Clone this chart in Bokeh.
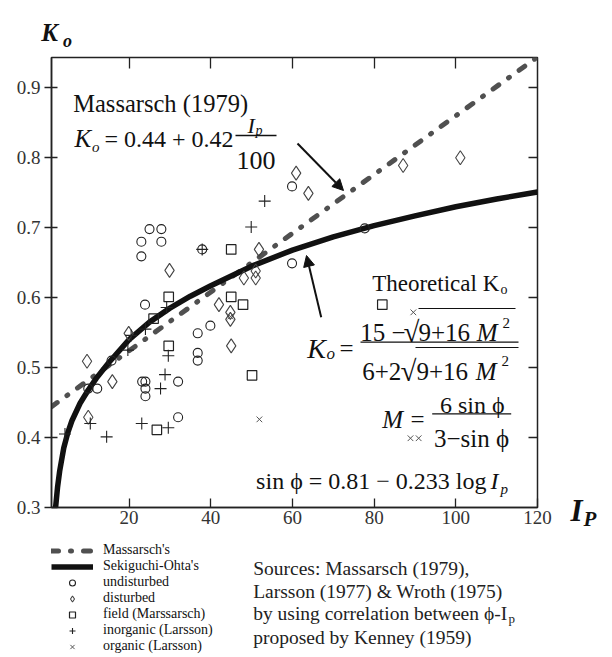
from bokeh.plotting import figure
from bokeh.layouts import row, column
from bokeh.models import (Range1d, LinearAxis, FixedTicker, Label, Arrow,
                          NormalHead, Legend, LegendItem)
from bokeh.embed import file_html
from bokeh.resources import INLINE

# ---------------- data ----------------
mass_ip = [1, 120]
mass_ko = [0.4442, 0.944]

theo_ip = [2.0, 2.5, 3, 4, 5, 6, 8, 10, 12, 15, 20, 25, 30, 35, 40, 50, 60, 70, 80, 90, 100, 110, 120]
theo_ko = [0.300, 0.330, 0.352, 0.385, 0.407, 0.424, 0.449, 0.468, 0.485, 0.507, 0.540, 0.565,
           0.585, 0.602, 0.617, 0.645, 0.668, 0.687, 0.703, 0.717, 0.730, 0.741, 0.751]

und_ip = [25.0, 27.9, 23.0, 27.9, 23.0, 23.9, 36.8, 39.9, 36.8, 36.8, 32.0, 32.0,
          23.2, 24.0, 24.0, 24.0, 10.0, 12.2, 15.7, 59.9, 59.9, 77.7, 37.9]
und_ko = [0.698, 0.698, 0.680, 0.680, 0.659, 0.590, 0.549, 0.560, 0.521, 0.510, 0.480, 0.429,
          0.480, 0.480, 0.470, 0.459, 0.470, 0.470, 0.510, 0.759, 0.649, 0.699, 0.669]

dis_ip = [29.9, 9.7, 15.9, 10.0, 19.9, 42.0, 44.8, 44.8, 45.0, 60.9, 63.9, 51.8, 48.1, 51.0, 51.0, 87.1, 101.1]
dis_ko = [0.639, 0.509, 0.480, 0.429, 0.549, 0.590, 0.579, 0.569, 0.531, 0.778, 0.749, 0.669,
          0.628, 0.628, 0.638, 0.789, 0.800]

fld_ip = [29.7, 26.0, 45.0, 45.0, 47.9, 29.7, 26.8, 50.1, 82.0]
fld_ko = [0.601, 0.570, 0.669, 0.601, 0.590, 0.531, 0.411, 0.489, 0.590]

ino_ip = [4.3, 10.5, 14.5, 23.1, 28.8, 27.7, 29.6, 29.6, 19.7, 20.5, 24.0, 29.2, 37.9, 49.9, 53.2]
ino_ko = [0.405, 0.420, 0.401, 0.420, 0.490, 0.470, 0.517, 0.414, 0.525, 0.546, 0.555, 0.586,
          0.669, 0.701, 0.738]

org_ip = [44.8, 51.9, 88.9, 90.9, 89.6]
org_ko = [0.573, 0.426, 0.399, 0.399, 0.579]

x_ticks = [20, 40, 60, 80, 100, 120]
y_ticks = [0.3, 0.4, 0.5, 0.6, 0.7, 0.8, 0.9]

legend_labels = ["Massarsch's", "Sekiguchi-Ohta's", "undisturbed", "disturbed",
                 "field (Marssarsch)", "inorganic (Larsson)", "organic (Larsson)"]

source_lines = ["Sources: Massarsch (1979),", "Larsson (1977) & Wroth (1975)",
                "by using correlation between \u03d5-I", "proposed by Kenney (1959)"]

# ---------------- geometry (page pixels) ----------------
W, H = 612, 657
LEFT_W = 560            # width of the plot column
TOP_H = 53              # strip above the plot
FL, FR, FT, FB = 51, 537, 57, 507
MAIN_H = 480
BOT_TOP = TOP_H + MAIN_H
BOT_H = H - BOT_TOP
X0, X1, Y0, Y1 = 1, 120, 0.3, 0.9433
SERIF = "Liberation Serif"
INK = "#111111"

STYLE = dict(line_mass=dict(line_color="#505050", line_width=5, line_dash="7 12 1 12", line_cap="round"),
             line_theo=dict(line_color=INK, line_width=5.5, line_join="round"),
             und=dict(marker="circle", size=9, fill_color=None, line_color="#222222", line_width=1.1),
             dis=dict(marker="diamond", size=14, fill_color=None, line_color="#444444", line_width=1.1),
             fld=dict(marker="square", size=9.5, fill_color=None, line_color="#222222", line_width=1.2),
             ino=dict(marker="cross", size=12, line_color="#222222", line_width=1.1),
             org=dict(marker="x", size=8, line_color="#555555", line_width=1.0))


def dx(px):
    return X0 + (px - FL) * (X1 - X0) / (FR - FL)


def dy(py):
    return Y0 + (FB - py) * (Y1 - Y0) / (FB - FT)


def strip(w, h, x_lo, x_hi, y_top, y_bot, **kw):
    return figure(width=w, height=h, x_range=Range1d(x_lo, x_hi), y_range=Range1d(y_bot, y_top),
                  x_axis_type=None, y_axis_type=None, toolbar_location=None,
                  output_backend="svg", outline_line_color=None,
                  background_fill_color="white", border_fill_color="white", **kw)


def txt(fig, x, y, text, size, style="normal", align="left", color=INK):
    fig.add_layout(Label(x=x, y=y, text=text, text_font=SERIF,
                         text_font_size=f"{size}px", text_font_style=style,
                         text_align=align, text_baseline="alphabetic", text_color=color))


# ---------------- main plot ----------------
p = figure(width=LEFT_W, height=MAIN_H, x_range=Range1d(X0, X1), y_range=Range1d(Y0, Y1),
           output_backend="svg", toolbar_location=None,
           min_border_left=FL, min_border_right=LEFT_W - FR, min_border_top=FT - TOP_H,
           min_border_bottom=BOT_TOP - FB, background_fill_color="white",
           border_fill_color="white")
p.xgrid.visible = False
p.ygrid.visible = False
p.outline_line_color = "#222222"
p.outline_line_width = 1.5

for ax, ticks in ((p.xaxis[0], x_ticks), (p.yaxis[0], y_ticks)):
    ax.ticker = FixedTicker(ticks=ticks)
    ax.minor_tick_line_color = None
    ax.axis_line_color = "#222222"
    ax.axis_line_width = 1.5
    ax.major_tick_line_color = "#222222"
    ax.major_tick_line_width = 1.3
    ax.major_label_text_font = SERIF
    ax.major_label_text_font_size = "19px"
    ax.major_label_text_color = "#333333"

p.yaxis[0].major_tick_in = 6
p.yaxis[0].major_tick_out = 7
p.yaxis[0].major_label_standoff = 4
p.xaxis[0].major_tick_in = 9
p.xaxis[0].major_tick_out = 0
p.xaxis[0].major_label_standoff = 3

for place, ticks, tin in (("above", x_ticks[:-1], 11), ("right", y_ticks[1:], 9)):
    extra = LinearAxis(ticker=FixedTicker(ticks=ticks), major_tick_in=tin, major_tick_out=0,
                       minor_tick_line_color=None, axis_line_color=None,
                       major_tick_line_color="#222222", major_tick_line_width=1.3,
                       major_label_text_color=None, major_label_text_font_size="1px",
                       major_label_standoff=0)
    p.add_layout(extra, place)

p.line(mass_ip, mass_ko, **STYLE["line_mass"])
p.line(theo_ip, theo_ko, **STYLE["line_theo"])
p.scatter(und_ip, und_ko, **STYLE["und"])
p.scatter(dis_ip, dis_ko, **STYLE["dis"])
p.scatter(fld_ip, fld_ko, **STYLE["fld"])
p.scatter(ino_ip, ino_ko, **STYLE["ino"])
p.scatter(org_ip, org_ko, **STYLE["org"])


def mt(px, py, text, size, style="normal", align="left", color=INK):
    txt(p, dx(px), dy(py), text, size, style, align, color)


def bar(px0, px1, py, width=1.3):
    p.add_layout(Arrow(end=None, x_start=dx(px0), y_start=dy(py), x_end=dx(px1), y_end=dy(py),
                       line_color=INK, line_width=width))


# Massarsch equation
mt(72.7, 103, "Massarsch (1979)", 24.5)
mt(74, 138.3, "K", 25, "italic")
mt(91.5, 146, "o", 15, "italic")
mt(104, 138.3, "= 0.44 + 0.42", 24)
mt(247, 125, "I", 22, "italic")
mt(255, 130, "p", 14, "italic")
bar(235, 276, 135)
mt(255.5, 160, "100", 26, align="center")

# Theoretical equation
mt(371.7, 283.3, "Theoretical K", 23)
mt(500, 289, "o", 14)
mt(306.7, 347.7, "K", 28, "italic")
mt(326, 353.3, "o", 17, "italic")
mt(339, 347.7, "=", 25)
# numerator
mt(405, 331.7, "15 \u2212", 25, align="right")
mt(419, 331.7, "\u221a", 29, align="right")
mt(418, 331.7, "9+16", 25)
mt(497, 331.7, "M", 25, "italic", align="right")
mt(502, 322, "2", 15)
bar(418, 515, 308, 1.2)
bar(360, 518, 341.7)
# denominator
mt(361.7, 370.7, "6+2", 25)
mt(416, 370.7, "\u221a", 29, align="right")
mt(416, 370.7, "9+16", 25)
mt(496, 370.7, "M", 25, "italic", align="right")
mt(501, 360.5, "2", 15)
bar(415, 518, 347, 1.2)
# M equation
mt(381.7, 419.3, "M", 25, "italic")
mt(417, 419.3, "=", 25, align="center")
mt(471.7, 404, "6 sin \u03d5", 24, align="center")
bar(431.7, 510.7, 413.3)
mt(471, 438.3, "3\u2212sin \u03d5", 25, align="center")
# sin phi
mt(486, 480, "sin \u03d5 = 0.81 \u2212 0.233 log", 24, align="right")
mt(490, 480, "I", 24, "italic")
mt(500, 488, "p", 15, "italic")

# arrows
for (x_a, y_a, x_b, y_b) in ((297, 143, 343, 190), (320.7, 316.7, 306, 255)):
    p.add_layout(Arrow(end=NormalHead(size=11, fill_color=INK, line_color=INK),
                       x_start=dx(x_a), y_start=dy(y_a), x_end=dx(x_b), y_end=dy(y_b),
                       line_color=INK, line_width=2))

# ---------------- strips around the plot ----------------
top = strip(W, TOP_H, 0, W, 0, TOP_H, min_border=0)
txt(top, 40.7, 31.7, "K", 25, "bold italic")
txt(top, 62.5, 40, "o", 18, "bold italic")

right = strip(W - LEFT_W, H - TOP_H, LEFT_W, W, TOP_H, H, min_border=0)
txt(right, 570, 510, "I", 31, "bold italic")
txt(right, 583, 518, "P", 21, "bold italic")

# the strip below shares the plot's left/right borders (frame x = FL..FR)
bot = strip(LEFT_W, BOT_H, FL, FR, BOT_TOP, H, min_border_left=FL, min_border_right=LEFT_W - FR,
            min_border_top=0, min_border_bottom=0)
proxies = [bot.line(mass_ip, mass_ko, **STYLE["line_mass"]),
           bot.line(theo_ip, theo_ko, **STYLE["line_theo"]),
           bot.scatter(und_ip, und_ko, **STYLE["und"]),
           bot.scatter(dis_ip, dis_ko, **STYLE["dis"]),
           bot.scatter(fld_ip, fld_ko, **STYLE["fld"]),
           bot.scatter(ino_ip, ino_ko, **STYLE["ino"]),
           bot.scatter(org_ip, org_ko, **STYLE["org"])]
legend = Legend(items=[LegendItem(label=lab, renderers=[r]) for lab, r in zip(legend_labels, proxies)],
                location=(0, 3), orientation="vertical",
                label_text_font=SERIF, label_text_font_size="14px", label_text_color=INK,
                glyph_width=42, glyph_height=15, label_height=15, label_standoff=10,
                spacing=0, padding=0, margin=0, border_line_color=None,
                background_fill_alpha=0)
bot.add_layout(legend)

for line, base in zip(source_lines, [568.3, 590.7, 613.3, 636.7]):
    txt(bot, 252.7, base, line, 19.5, color="#222222")
txt(bot, 508, 618, "p", 13, color="#222222")

layout = column(top, row(column(p, bot), right))
open("out.html", "w").write(file_html(layout, INLINE))
